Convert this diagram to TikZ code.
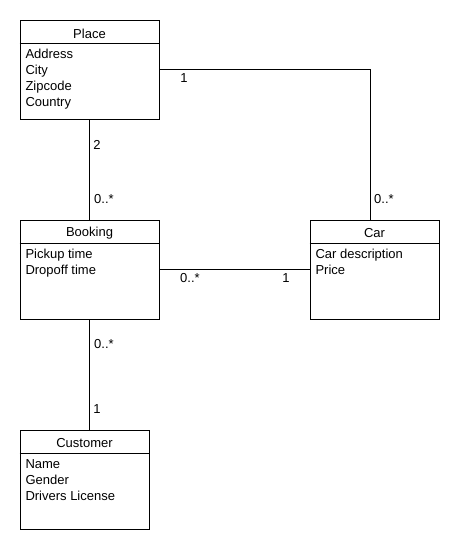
\documentclass[tikz,border=0pt]{standalone}
\usepackage{fontspec}
\setmainfont{Liberation Sans}
\begin{document}
\begin{tikzpicture}[x=1pt,y=-1pt,line width=1pt,
  every node/.style={font=\fontsize{13}{16}\selectfont, inner sep=0pt},
  umlbox/.style={draw, rectangle, fill=white},
  title/.style={anchor=center},
  attrs/.style={anchor=north west, align=left},
  mult/.style={anchor=center}]
\useasboundingbox (0,0) rectangle (460,550);
% classes
\node[umlbox, minimum width=139pt, minimum height=99pt] (place) at (89.5,69.5) {};
\node[umlbox, minimum width=139pt, minimum height=99pt] (booking) at (89.5,269.5) {};
\node[umlbox, minimum width=129pt, minimum height=99pt] (car) at (374.5,269.5) {};
\node[umlbox, minimum width=129pt, minimum height=99pt] (customer) at (84.5,479.5) {};
% header lines
\draw (place.west |- 0,43.5) -- (place.east |- 0,43.5);
\draw (booking.west |- 0,243.5) -- (booking.east |- 0,243.5);
\draw (car.west |- 0,243.5) -- (car.east |- 0,243.5);
\draw (customer.west |- 0,453.5) -- (customer.east |- 0,453.5);
% titles
\node[title] (placet) at (89.5,33.5) {Place};
\node[title] (bookingt) at (89.5,233.5) {Booking};
\node[title] (cart) at (374.5,233.5) {Car};
\node[title] (customert) at (84.5,443.5) {Customer};
% attributes
\node[attrs] (placea) at (25,49) {Address\\City\\Zipcode\\Country};
\node[attrs] (bookinga) at (25,249) {Pickup time\\Dropoff time};
\node[attrs] (cara) at (315,249) {Car description\\Price};
\node[attrs] (customera) at (25,459) {Name\\Gender\\Drivers License};
% connectors
\draw (place.east) -| ([xshift=-4.5pt]car.north);
\draw (place.south) -- (booking.north);
\draw (booking.east) -- (car.west);
\draw (booking.south) -- (booking.south |- customer.north);
% multiplicities
\node[mult] (m1) at (184,78.5) {1};
\node[mult] (m2) at (384,199.5) {0..*};
\node[mult] (m3) at (97,144.5) {2};
\node[mult] (m4) at (104,199.5) {0..*};
\node[mult] (m5) at (190,278.5) {0..*};
\node[mult] (m6) at (286,278.5) {1};
\node[mult] (m7) at (104,344.5) {0..*};
\node[mult] (m8) at (97,409.5) {1};
\end{tikzpicture}
\end{document}
